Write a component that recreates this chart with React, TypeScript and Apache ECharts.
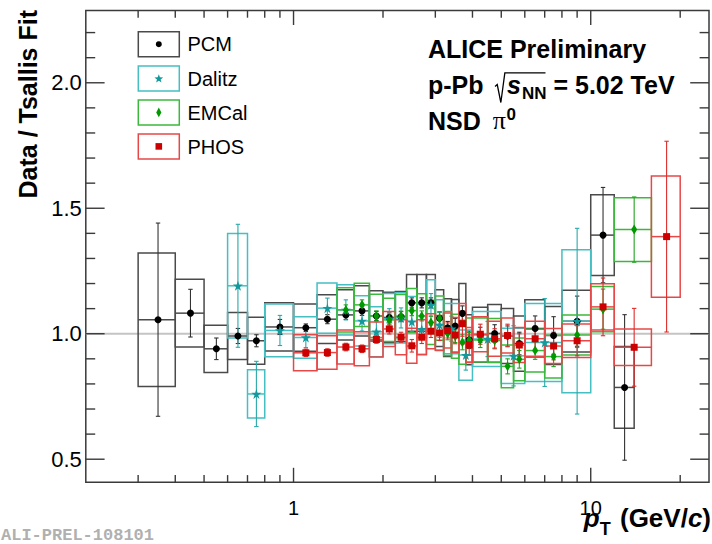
import React, { useEffect, useRef } from "react";
import * as echarts from "echarts";

const FONT = "'Liberation Sans', Arial, Helvetica, sans-serif";
const SERIF = "'Liberation Serif', 'Times New Roman', serif";

// ---- PCM ----
const pcmEdges = [0.3, 0.4, 0.5, 0.6, 0.7, 0.8, 1.0, 1.2, 1.4, 1.6, 1.8, 2.0, 2.2, 2.4, 2.6, 2.8, 3.0, 3.2, 3.4, 3.6, 3.8, 4.0, 4.5, 5.0, 5.5, 6.0, 7.0, 8.0, 10, 12, 14];
const pcmValues = [1.056, 1.082, 0.94, 0.991, 0.972, 1.027, 1.024, 1.058, 1.075, 1.091, 1.071, 1.065, 1.068, 1.123, 1.123, 1.123, 1.062, 1.024, 1.031, 1.081, 0.976, 0.996, 1.001, 0.991, 0.961, 1.021, 0.993, 1.05, 1.393, 0.786];
const pcmStat = [0.385, 0.095, 0.043, 0.03, 0.024, 0.03, 0.015, 0.018, 0.018, 0.018, 0.018, 0.018, 0.02, 0.02, 0.02, 0.02, 0.025, 0.025, 0.03, 0.03, 0.035, 0.03, 0.035, 0.04, 0.045, 0.05, 0.075, 0.1, 0.19, 0.29];
const pcmSys = [0.266, 0.135, 0.094, 0.094, 0.094, 0.096, 0.094, 0.097, 0.1, 0.1, 0.1, 0.1, 0.1, 0.113, 0.113, 0.113, 0.113, 0.115, 0.105, 0.119, 0.1, 0.11, 0.115, 0.11, 0.11, 0.114, 0.116, 0.123, 0.161, 0.163];

// ---- Dalitz ----
const dalitzEdges = [0.6, 0.7, 0.8, 1.0, 1.2, 1.4, 1.6, 1.8, 2.0, 2.2, 2.4, 2.6, 2.8, 3.0, 3.2, 3.6, 4.0, 5.0, 6.0, 8.0, 10];
const dalitzValues = [1.191, 0.76, 1.013, 0.985, 1.102, 1.095, 1.051, 1.008, 1.06, 1.063, 1.048, 1.018, 1.115, 1.035, 1.02, 0.915, 0.979, 0.912, 0.965, 1.05];
const dalitzStat = [0.245, 0.13, 0.06, 0.04, 0.04, 0.04, 0.04, 0.04, 0.04, 0.04, 0.04, 0.04, 0.045, 0.05, 0.05, 0.06, 0.07, 0.12, 0.175, 0.37];
const dalitzSys = [0.208, 0.096, 0.105, 0.083, 0.1, 0.1, 0.1, 0.1, 0.1, 0.1, 0.1, 0.1, 0.1, 0.1, 0.1, 0.1, 0.11, 0.11, 0.155, 0.285];

// ---- EMCal ----
const emcalEdges = [1.4, 1.6, 1.8, 2.0, 2.2, 2.4, 2.6, 2.8, 3.0, 3.2, 3.4, 3.6, 3.8, 4.0, 4.5, 5.0, 5.5, 6.0, 7.0, 8.0, 10, 12, 16];
const emcalValues = [1.095, 1.115, 1.071, 1.055, 1.07, 1.092, 1.071, 1.045, 1.062, 1.001, 0.99, 0.966, 0.975, 0.975, 0.973, 0.87, 0.898, 0.933, 0.909, 0.995, 1.098, 1.415];
const emcalStat = [0.02, 0.02, 0.02, 0.02, 0.02, 0.02, 0.02, 0.025, 0.025, 0.025, 0.025, 0.03, 0.03, 0.03, 0.03, 0.03, 0.035, 0.035, 0.04, 0.05, 0.08, 0.13];
const emcalSys = [0.088, 0.086, 0.086, 0.086, 0.086, 0.088, 0.088, 0.088, 0.088, 0.088, 0.088, 0.088, 0.088, 0.088, 0.088, 0.085, 0.085, 0.085, 0.085, 0.08, 0.09, 0.127];

// ---- PHOS ----
const phosEdges = [1.0, 1.2, 1.4, 1.6, 1.8, 2.0, 2.2, 2.4, 2.6, 2.8, 3.0, 3.2, 3.4, 3.6, 3.8, 4.0, 4.5, 5.0, 5.5, 6.0, 7.0, 8.0, 10, 12, 16, 20];
const phosValues = [0.924, 0.925, 0.947, 0.94, 0.977, 1.019, 0.986, 0.952, 0.986, 1.01, 1.003, 1.013, 0.995, 1.04, 0.955, 0.998, 0.98, 0.993, 0.955, 0.98, 0.951, 0.972, 1.107, 0.946, 1.387];
const phosStat = [0.015, 0.015, 0.015, 0.015, 0.015, 0.02, 0.02, 0.025, 0.025, 0.025, 0.03, 0.03, 0.035, 0.05, 0.04, 0.04, 0.04, 0.045, 0.045, 0.05, 0.055, 0.06, 0.115, 0.155, 0.38];
const phosSys = [0.072, 0.067, 0.068, 0.068, 0.07, 0.07, 0.07, 0.07, 0.07, 0.07, 0.07, 0.07, 0.07, 0.08, 0.07, 0.07, 0.07, 0.07, 0.07, 0.07, 0.07, 0.067, 0.092, 0.073, 0.242];

// ---- axes ----
const X_MIN = 0.2;
const X_MAX = 25;
const Y_MIN = 0.408;
const Y_MAX = 2.288;
const xMajorTicks = [1, 10];
const xMinorTicks = [0.3, 0.4, 0.5, 0.6, 0.7, 0.8, 0.9, 2, 3, 4, 5, 6, 7, 8, 9, 20];
const yMajorTicks = [0.5, 1.0, 1.5, 2.0];
const yMinorTicks = [0.6, 0.7, 0.8, 0.9, 1.1, 1.2, 1.3, 1.4, 1.6, 1.7, 1.8, 1.9, 2.1, 2.2];
const yLabelValues = [0.5, 1.0, 1.5, 2.0];
const referenceLevel = [1.0];

const STAR_PATH =
  "path://M50,0 L61.2,34.5 L97.6,34.5 L68.2,55.9 L79.4,90.5 L50,69.1 L20.6,90.5 L31.8,55.9 L2.4,34.5 L38.8,34.5 Z";

type Detector = {
  name: string;
  edges: number[];
  values: number[];
  stat: number[];
  sys: number[];
  box: string;
  bar: string;
  marker: string;
  symbol: string;
  symbolSize: number | number[];
};

const detectors: Detector[] = [
  { name: "PCM", edges: pcmEdges, values: pcmValues, stat: pcmStat, sys: pcmSys, box: "#4a4a4a", bar: "#333333", marker: "#000000", symbol: "circle", symbolSize: 7 },
  { name: "Dalitz", edges: dalitzEdges, values: dalitzValues, stat: dalitzStat, sys: dalitzSys, box: "#45bfc2", bar: "#2aa9ab", marker: "#13989b", symbol: STAR_PATH, symbolSize: 10 },
  { name: "EMCal", edges: emcalEdges, values: emcalValues, stat: emcalStat, sys: emcalSys, box: "#3cb93c", bar: "#22a322", marker: "#009a00", symbol: "diamond", symbolSize: [6, 10] },
  { name: "PHOS", edges: phosEdges, values: phosValues, stat: phosStat, sys: phosSys, box: "#e64848", bar: "#dd2c2c", marker: "#cc0000", symbol: "rect", symbolSize: 7 },
];

// canvas-based width measurement for laying out mixed-style text runs
let measureCtx: CanvasRenderingContext2D | null = null;
function textWidth(text: string, font: string) {
  if (!measureCtx) measureCtx = document.createElement("canvas").getContext("2d");
  measureCtx!.font = font;
  return measureCtx!.measureText(text).width;
}

// distance from the alphabetic baseline up to the em-box centre
const CENTRAL = 0.3465;

type Run = { t: string; size: number; bold?: boolean; italic?: boolean; family?: string; dy?: number; color?: string; gap?: number };

function runs(x0: number, baseline: number, parts: Run[], align: "left" | "right" = "left") {
  const widths = parts.map((p) =>
    textWidth(p.t, `${p.italic ? "italic " : ""}${p.bold ? "bold " : ""}${p.size}px ${p.family || FONT}`) + (p.gap || 0)
  );
  const total = widths.reduce((a, b) => a + b, 0);
  const start = align === "right" ? x0 - total : x0;
  let cur = start;
  const els: any[] = [];
  const xs: number[] = [];
  parts.forEach((p, i) => {
    xs.push(cur);
    els.push({
      type: "text",
      x: cur,
      y: baseline + (p.dy || 0) - CENTRAL * p.size,
      silent: true,
      style: {
        text: p.t,
        fontSize: p.size,
        fontWeight: p.bold ? "bold" : "normal",
        fontStyle: p.italic ? "italic" : "normal",
        fontFamily: p.family || FONT,
        fill: p.color || "#000",
        align: "left",
        verticalAlign: "middle",
      },
    });
    cur += widths[i];
  });
  return { els, start, widths, xs };
}

function App() {
  const ref = useRef<HTMLDivElement>(null);

  useEffect(() => {
    const chart = echarts.init(ref.current!, undefined, { renderer: "svg" });

    const gridLeft = 85.8;
    const gridTop = 10.5;
    const gridWidth = 626.4;
    const gridHeight = 471.8;

    const series: any[] = [];

    // reference line at unity
    series.push({
      type: "custom",
      silent: true,
      z: 1,
      data: referenceLevel.map((v) => [1, v]),
      renderItem: (params: any, api: any) => {
        const cs = params.coordSys;
        const py = api.coord([1, api.value(1)])[1];
        return {
          type: "line",
          shape: { x1: cs.x, y1: py, x2: cs.x + cs.width, y2: py },
          style: { stroke: "#c4c4c4", lineWidth: 2 },
        };
      },
    });

    // systematic boxes and statistical error bars
    detectors.forEach((d) => {
      const data = d.values.map((v, i) => [d.edges[i], d.edges[i + 1], v, d.stat[i], d.sys[i]]);
      series.push({
        type: "custom",
        name: d.name + " uncertainties",
        silent: true,
        z: 2,
        data,
        renderItem: (params: any, api: any) => {
          const lo = api.value(0);
          const hi = api.value(1);
          const v = api.value(2);
          const st = api.value(3);
          const sy = api.value(4);
          const mid = (lo + hi) / 2;
          const a = api.coord([lo, v + sy]);
          const b = api.coord([hi, v - sy]);
          const c = api.coord([mid, v]);
          const t = api.coord([mid, v + st]);
          const btm = api.coord([mid, v - st]);
          const l = api.coord([lo, v]);
          const r = api.coord([hi, v]);
          const cap = 2.2;
          return {
            type: "group",
            children: [
              {
                type: "rect",
                shape: { x: a[0], y: a[1], width: b[0] - a[0], height: b[1] - a[1] },
                style: { fill: "none", stroke: d.box, lineWidth: 1.5 },
              },
              {
                type: "line",
                shape: { x1: l[0], y1: c[1], x2: r[0], y2: c[1] },
                style: { stroke: d.box, lineWidth: 1.5 },
              },
              {
                type: "line",
                shape: { x1: c[0], y1: t[1], x2: c[0], y2: btm[1] },
                style: { stroke: d.bar, lineWidth: 1.1 },
              },
              {
                type: "line",
                shape: { x1: c[0] - cap, y1: t[1], x2: c[0] + cap, y2: t[1] },
                style: { stroke: d.bar, lineWidth: 1.1 },
              },
              {
                type: "line",
                shape: { x1: c[0] - cap, y1: btm[1], x2: c[0] + cap, y2: btm[1] },
                style: { stroke: d.bar, lineWidth: 1.1 },
              },
            ],
          };
        },
      });
    });

    // markers
    detectors.forEach((d) => {
      series.push({
        type: "scatter",
        name: d.name,
        silent: true,
        z: 3,
        symbol: d.symbol,
        symbolSize: d.symbolSize,
        itemStyle: { color: d.marker, opacity: 1 },
        data: d.values.map((v, i) => [(d.edges[i] + d.edges[i + 1]) / 2, v]),
      });
    });

    // axis ticks on all four sides of the frame
    const tickData: number[][] = [
      ...xMajorTicks.map((v) => [v, 1, 0, 1]),
      ...xMinorTicks.map((v) => [v, 1, 0, 0]),
      ...yMajorTicks.map((v) => [1, v, 1, 1]),
      ...yMinorTicks.map((v) => [1, v, 1, 0]),
    ];
    series.push({
      type: "custom",
      silent: true,
      z: 5,
      data: tickData,
      renderItem: (params: any, api: any) => {
        const cs = params.coordSys;
        const kind = api.value(2);
        const major = api.value(3) === 1;
        const st = { stroke: "#3a3a3a", lineWidth: 1.4 };
        if (kind === 0) {
          const px = api.coord([api.value(0), 1])[0];
          const len = major ? 14.5 : 7.2;
          const yb = cs.y + cs.height;
          return {
            type: "group",
            children: [
              { type: "line", shape: { x1: px, y1: yb, x2: px, y2: yb - len }, style: st },
              { type: "line", shape: { x1: px, y1: cs.y, x2: px, y2: cs.y + len }, style: st },
            ],
          };
        }
        const py = api.coord([1, api.value(1)])[1];
        const len = major ? 18.8 : 9.4;
        const xr = cs.x + cs.width;
        return {
          type: "group",
          children: [
            { type: "line", shape: { x1: cs.x, y1: py, x2: cs.x + len, y2: py }, style: st },
            { type: "line", shape: { x1: xr, y1: py, x2: xr - len, y2: py }, style: st },
          ],
        };
      },
    });

    const graphic: any[] = [];

    // y-axis title
    graphic.push({
      type: "text",
      x: 28,
      y: 10,
      rotation: Math.PI / 2,
      silent: true,
      style: {
        text: "Data / Tsallis Fit",
        fontSize: 25,
        fontWeight: "bold",
        fontFamily: FONT,
        fill: "#000",
        align: "right",
        verticalAlign: "middle",
      },
    });

    // x-axis title
    graphic.push(
      ...runs(
        711,
        527,
        [
          { t: "p", size: 26, bold: true, italic: true },
          { t: "T", size: 18, bold: true, dy: 8, gap: 2 },
          { t: " (GeV/", size: 26, bold: true },
          { t: "c", size: 26, bold: true, italic: true },
          { t: ")", size: 26, bold: true },
        ],
        "right"
      ).els
    );

    // legend
    const legendRows = [44.2, 78.4, 112.4, 146.4];
    detectors.forEach((d, i) => {
      const cy = legendRows[i];
      graphic.push({
        type: "rect",
        silent: true,
        shape: { x: 138.3, y: cy - 12.5, width: 41, height: 25 },
        style: { fill: "#fff", stroke: d.box, lineWidth: 1.5 },
      });
      const mx = 158.8;
      if (d.name === "PCM") {
        graphic.push({ type: "circle", silent: true, shape: { cx: mx, cy, r: 3 }, style: { fill: d.marker } });
      } else if (d.name === "Dalitz") {
        const pts: number[][] = [];
        for (let k = 0; k < 10; k++) {
          const ang = -Math.PI / 2 + (k * Math.PI) / 5;
          const rr = k % 2 === 0 ? 4.6 : 1.9;
          pts.push([mx + rr * Math.cos(ang), cy + 0.4 + rr * Math.sin(ang)]);
        }
        graphic.push({ type: "polygon", silent: true, shape: { points: pts }, style: { fill: d.marker } });
      } else if (d.name === "EMCal") {
        graphic.push({
          type: "polygon",
          silent: true,
          shape: { points: [[mx, cy - 4.8], [mx + 2.6, cy], [mx, cy + 4.8], [mx - 2.6, cy]] },
          style: { fill: d.marker },
        });
      } else {
        graphic.push({ type: "rect", silent: true, shape: { x: mx - 3.3, y: cy - 3.3, width: 6.6, height: 6.6 }, style: { fill: d.marker } });
      }
      graphic.push(...runs(187.5, cy + 7.2, [{ t: d.name, size: 20 }]).els);
    });

    // collaboration label
    graphic.push(...runs(428, 58, [{ t: "ALICE Preliminary", size: 25, bold: true }]).els);

    const line2 = runs(428, 94, [
      { t: "p-Pb", size: 25, bold: true, gap: 23.5 },
      { t: "s", size: 25, bold: true, italic: true, gap: 1 },
      { t: "NN", size: 17, bold: true, dy: 5.5 },
      { t: " = 5.02 TeV", size: 25, bold: true },
    ]);
    graphic.push(...line2.els);
    {
      const sx = line2.xs[1];
      const overEnd = line2.xs[3] - 1;
      graphic.push({
        type: "polyline",
        silent: true,
        shape: {
          points: [
            [sx - 12, 86.5],
            [sx - 9.8, 84.5],
            [sx - 6.2, 102.5],
            [sx - 2.2, 72.8],
            [overEnd, 72.8],
          ],
        },
        style: { stroke: "#000", lineWidth: 1.3, fill: "none" },
      });
    }

    graphic.push(
      ...runs(428, 130, [
        { t: "NSD", size: 25, bold: true, gap: 12 },
        { t: "\u03c0", size: 26, family: SERIF, gap: 0.5 },
        { t: "0", size: 17, bold: true, dy: -9.5 },
      ]).els
    );

    // preliminary figure tag
    graphic.push(
      ...runs(1, 541, [
        { t: "ALI-PREL-108101", size: 17, bold: true, family: "'Liberation Mono', 'DejaVu Sans Mono', monospace", color: "#b0b0b0" },
      ]).els
    );

    chart.setOption({
      animation: false,
      grid: {
        left: gridLeft,
        top: gridTop,
        width: gridWidth,
        height: gridHeight,
        show: true,
        borderColor: "#3a3a3a",
        borderWidth: 1.5,
        backgroundColor: "transparent",
        containLabel: false,
      },
      xAxis: {
        type: "log",
        logBase: 10,
        min: X_MIN,
        max: X_MAX,
        axisLine: { show: false },
        axisTick: { show: false },
        splitLine: { show: false },
        axisLabel: {
          show: true,
          margin: 16,
          fontSize: 20,
          fontFamily: FONT,
          color: "#000",
          formatter: (v: number) => {
            for (const m of xMajorTicks) if (Math.abs(v - m) < 1e-6 * m) return String(m);
            return "";
          },
        },
      },
      yAxis: {
        type: "value",
        min: Y_MIN,
        max: Y_MAX,
        axisLine: { show: false },
        axisTick: { show: false },
        splitLine: { show: false },
        axisLabel: {
          show: true,
          customValues: yLabelValues,
          margin: 4,
          fontSize: 22,
          fontFamily: FONT,
          color: "#000",
          formatter: (v: number) => v.toFixed(1),
        },
      },
      graphic,
      series,
    });

    return () => chart.dispose();
  }, []);

  return (
    <div
      ref={ref}
      style={{ position: "fixed", left: 0, top: 0, width: 712, height: 544, background: "#fff" }}
    />
  );
}

export default App;
